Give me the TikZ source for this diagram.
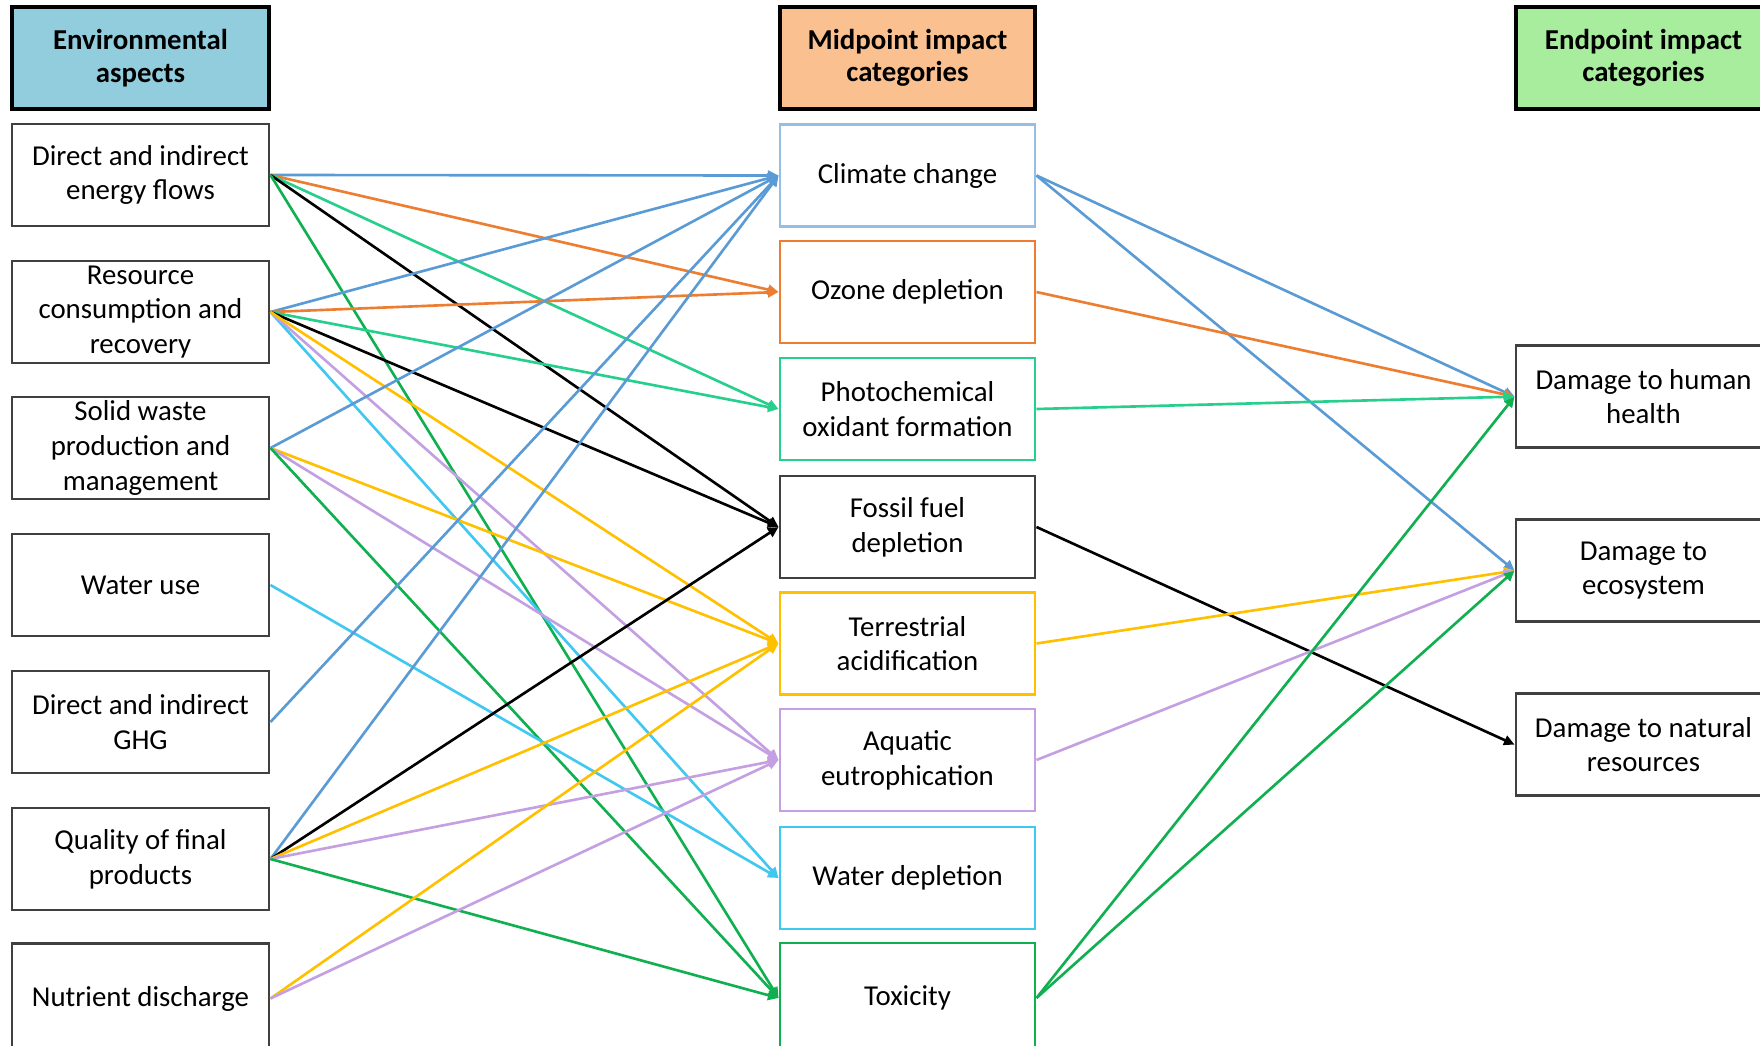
\documentclass[tikz,border=0pt]{standalone}
\usepackage{fontspec}
\setmainfont{Carlito}
\usepackage{color}
\usepackage{tikz}
\usetikzlibrary{arrows.meta}

\definecolor{aspectblue}{RGB}{146,205,221}
\definecolor{midorange}{RGB}{250,192,144}
\definecolor{endgreen}{RGB}{168,236,158}
\definecolor{ccblue}{RGB}{91,155,213}
\definecolor{ccline}{RGB}{150,190,228}
\definecolor{odorange}{RGB}{237,125,49}
\definecolor{pcteal}{RGB}{38,208,140}
\definecolor{tayellow}{RGB}{255,192,0}
\definecolor{aelilac}{RGB}{196,160,226}
\definecolor{wdcyan}{RGB}{64,200,240}
\definecolor{txgreen}{RGB}{16,176,80}

\begin{document}
\begin{tikzpicture}[x=0.01cm,y=-0.01cm,
	box/.style={draw=black!75,line width=0.8pt,fill=white,minimum width=2.55cm,minimum height=1.02cm,inner sep=0.5pt,align=center,font=\fontsize{8.2}{9.9}\selectfont},
	head/.style={box,draw=black,line width=1.3pt,font=\fontsize{8.2}{9.2}\selectfont\bfseries},
	link/.style={line width=0.75pt,-{Triangle[length=3pt,width=2.8pt]}}]
	\useasboundingbox (0,0) rectangle (1760,1045);
	% Headers %
	\node [head,fill=aspectblue,minimum width=2.57cm] (envhead) at (140.5,58) {Environmental\\aspects};
	\node [head,fill=midorange] (midhead) at (907.5,58) {Midpoint impact\\categories};
	\node [head,fill=endgreen] (endhead) at (1643.5,58) {Endpoint impact\\categories};
	% Environmental aspects %
	\node [box,minimum width=2.57cm] (energy) at (140.5,175) {Direct and indirect\\energy flows};
	\node [box,minimum width=2.57cm] (resource) at (140.5,312) {Resource\\consumption and\\recovery};
	\node [box,minimum width=2.57cm] (waste) at (140.5,448) {Solid waste\\production and\\management};
	\node [box,minimum width=2.57cm] (water) at (140.5,585) {Water use};
	\node [box,minimum width=2.57cm] (ghg) at (140.5,722) {Direct and indirect\\GHG};
	\node [box,minimum width=2.57cm] (quality) at (140.5,859) {Quality of final\\products};
	\node [box,minimum width=2.57cm,minimum height=1.1cm] (nutrient) at (140.5,998.5) {Nutrient discharge};
	% Midpoint categories %
	\node [box,draw=ccline] (climate) at (907.5,175.5) {Climate change};
	\node [box,draw=odorange] (ozone) at (907.5,292) {Ozone depletion};
	\node [box,draw=pcteal] (photo) at (907.5,409) {Photochemical\\oxidant formation};
	\node [box] (fossil) at (907.5,527) {Fossil fuel\\depletion};
	\node [box,draw=tayellow] (acid) at (907.5,643.5) {Terrestrial\\acidification};
	\node [box,draw=aelilac] (eutro) at (907.5,760) {Aquatic\\eutrophication};
	\node [box,draw=wdcyan] (wdep) at (907.5,878) {Water depletion};
	\node [box,draw=txgreen,minimum height=1.1cm] (tox) at (907.5,998) {Toxicity};
	% Endpoint categories %
	\node [box] (human) at (1643.5,396.6) {Damage to human\\health};
	\node [box] (eco) at (1643.5,570.6) {Damage to\\ecosystem};
	\node [box] (natres) at (1643.5,744.6) {Damage to natural\\resources};
	% Aspects to midpoint %
	\foreach \s/\t/\c in {energy/climate/ccblue, energy/ozone/odorange, energy/photo/pcteal, energy/fossil/black, energy/tox/txgreen,
		resource/climate/ccblue, resource/ozone/odorange, resource/photo/pcteal, resource/fossil/black, resource/wdep/wdcyan, resource/eutro/aelilac, resource/acid/tayellow,
		waste/climate/ccblue, waste/acid/tayellow, waste/eutro/aelilac, waste/tox/txgreen,
		water/wdep/wdcyan, ghg/climate/ccblue,
		quality/climate/ccblue, quality/fossil/black, quality/acid/tayellow, quality/eutro/aelilac, quality/tox/txgreen,
		nutrient/acid/tayellow, nutrient/eutro/aelilac}
		\draw [link,\c] (\s.east) -- (\t.west);
	% Midpoint to endpoint %
	\foreach \s/\t/\c in {climate/human/ccblue, climate/eco/ccblue, ozone/human/odorange, photo/human/pcteal, fossil/natres/black,
		acid/eco/tayellow, eutro/eco/aelilac, tox/human/txgreen, tox/eco/txgreen}
		\draw [link,\c] (\s.east) -- (\t.west);
\end{tikzpicture}
\end{document}
